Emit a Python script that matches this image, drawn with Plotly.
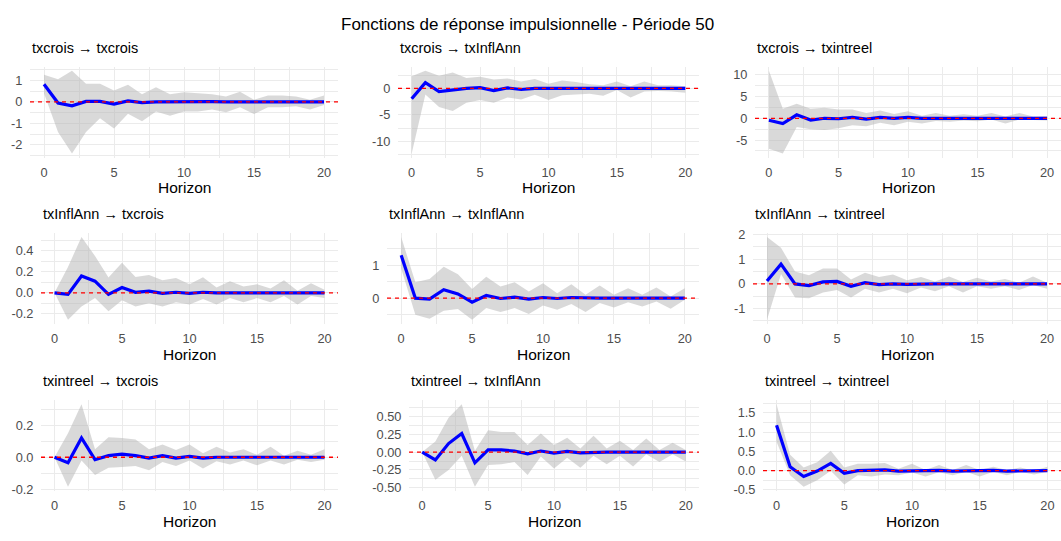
import plotly.graph_objects as go

# ---- data -----------------------------------------------------------------
horizon = list(range(21))
x_ticks = [0, 5, 10, 15, 20]

titles = [
    "txcrois → txcrois", "txcrois → txInflAnn", "txcrois → txintreel",
    "txInflAnn → txcrois", "txInflAnn → txInflAnn", "txInflAnn → txintreel",
    "txintreel → txcrois", "txintreel → txInflAnn", "txintreel → txintreel",
]

# txcrois -> txcrois
irf_1 = [0.82, -0.05, -0.18, 0.02, 0.02, -0.1, 0.05, -0.03, 0.0, 0.01, 0.0,
         0.0, 0.01, 0.0, 0.0, 0.0, 0.0, 0.0, 0.0, 0.0, 0.0]
low_1 = [0.4, -1.4, -2.4, -1.4, -0.76, -1.24, -0.55, -0.9, -0.45, -0.64, -0.45,
         -0.45, -0.35, -0.48, -0.25, -0.56, -0.25, -0.25, -0.2, -0.35, -0.15]
up_1 = [1.26, 1.05, 1.45, 0.85, 0.85, 0.53, 0.8, 0.35, 0.68, 0.35, 0.45,
        0.4, 0.35, 0.25, 0.47, 0.1, 0.3, 0.3, 0.25, 0.1, 0.3]

# txcrois -> txInflAnn
irf_2 = [-1.95, 1.1, -0.6, -0.3, 0.0, 0.15, -0.4, 0.1, -0.2, 0.0, 0.0,
         0.0, 0.0, 0.0, 0.0, 0.0, 0.0, 0.0, 0.0, 0.0, 0.0]
low_2 = [-12.3, -1.16, -3.5, -4.27, -2.7, -2.2, -2.7, -1.7, -2.1, -1.2, -2.2,
         -1.3, -1.1, -1.0, -1.4, -0.3, -1.7, -0.6, -0.5, -0.6, -0.8]
up_2 = [2.3, 3.35, 2.4, 3.0, 2.0, 2.2, 1.7, 1.9, 1.3, 1.8, 0.9,
        1.5, 1.2, 0.8, 0.6, 1.3, 0.4, 1.3, 0.6, 0.6, 0.4]

# txcrois -> txintreel
irf_3 = [-0.45, -1.2, 0.8, -0.4, 0.0, -0.1, 0.2, -0.2, 0.2, 0.0, 0.2,
         0.0, 0.0, 0.0, 0.0, 0.0, 0.0, 0.0, 0.0, 0.0, 0.0]
low_3 = [-7.0, -8.06, -2.0, -2.5, -2.7, -2.3, -1.6, -1.8, -1.0, -1.6, -0.8,
         -1.2, -0.6, -0.8, -0.5, -0.7, -0.3, -1.2, -0.3, -0.4, -0.5]
up_3 = [10.9, 2.2, 3.35, 2.2, 2.4, 2.0, 2.0, 1.2, 1.8, 1.0, 1.6,
        0.6, 1.2, 0.6, 0.9, 0.6, 1.2, 0.4, 1.2, 0.4, 0.5]

# txInflAnn -> txcrois
irf_4 = [0.0, -0.015, 0.16, 0.11, -0.015, 0.05, 0.005, 0.015, -0.005, 0.005, -0.005,
         0.005, 0.0, 0.0, 0.0, 0.0, 0.0, 0.0, 0.0, 0.0, 0.0]
low_4 = [0.0, -0.255, -0.13, -0.05, -0.175, -0.07, -0.13, -0.10, -0.13, -0.09, -0.11,
         -0.06, -0.11, -0.05, -0.09, -0.05, -0.09, -0.03, -0.11, -0.03, -0.05]
up_4 = [0.0, 0.246, 0.53, 0.35, 0.145, 0.286, 0.15, 0.17, 0.12, 0.14, 0.08,
        0.148, 0.05, 0.11, 0.06, 0.08, 0.04, 0.12, 0.02, 0.09, 0.03]

# txInflAnn -> txInflAnn
irf_5 = [1.3, 0.0, -0.03, 0.255, 0.13, -0.12, 0.08, -0.01, 0.03, -0.03, 0.02,
         -0.01, 0.02, 0.0, 0.0, 0.0, 0.0, 0.0, 0.0, 0.0, 0.0]
low_5 = [0.9, -0.5, -0.62, -0.38, -0.33, -0.65, -0.3, -0.42, -0.3, -0.48, -0.22,
         -0.35, -0.18, -0.42, -0.15, -0.28, -0.12, -0.25, -0.1, -0.32, -0.05]
up_5 = [1.85, 0.48, 0.58, 0.95, 0.72, 0.28, 0.65, 0.35, 0.48, 0.2, 0.45,
        0.15, 0.42, 0.1, 0.38, 0.1, 0.3, 0.1, 0.32, 0.05, 0.3]

# txInflAnn -> txintreel
irf_6 = [0.12, 0.8, 0.0, -0.07, 0.08, 0.1, -0.1, 0.05, -0.03, 0.0, -0.02,
         0.0, 0.0, 0.0, 0.0, 0.0, 0.0, 0.0, 0.0, 0.0, 0.0]
low_6 = [-1.45, 0.4, -0.55, -0.58, -0.35, -0.25, -0.55, -0.2, -0.35, -0.2, -0.38,
         -0.15, -0.3, -0.1, -0.35, -0.1, -0.2, -0.1, -0.25, -0.05, -0.2]
up_6 = [1.9, 1.46, 0.5, 0.35, 0.62, 0.62, 0.18, 0.45, 0.28, 0.38, 0.15,
        0.28, 0.1, 0.3, 0.08, 0.25, 0.1, 0.2, 0.05, 0.3, 0.05]

# txintreel -> txcrois
irf_7 = [0.0, -0.034, 0.12, -0.015, 0.01, 0.02, 0.01, -0.005, 0.01, -0.005, 0.005,
         -0.005, 0.0, 0.0, 0.0, -0.003, 0.0, 0.0, 0.0, 0.0, 0.0]
low_7 = [0.0, -0.184, -0.02, -0.11, -0.065, -0.06, -0.055, -0.08, -0.03, -0.055, -0.02,
         -0.07, -0.025, -0.045, -0.02, -0.05, -0.02, -0.045, -0.015, -0.03, -0.015]
up_7 = [0.0, 0.15, 0.33, 0.05, 0.124, 0.12, 0.11, 0.05, 0.08, 0.045, 0.08,
        0.025, 0.065, 0.03, 0.05, 0.015, 0.065, 0.01, 0.04, 0.015, 0.05]

# txintreel -> txInflAnn
irf_8 = [0.0, -0.11, 0.12, 0.26, -0.15, 0.03, 0.03, 0.015, -0.025, 0.015, -0.015,
         0.01, -0.01, 0.0, 0.0, 0.0, 0.0, 0.0, 0.0, 0.0, 0.0]
low_8 = [0.0, -0.386, -0.25, -0.05, -0.486, -0.18, -0.17, -0.14, -0.32, -0.06, -0.23,
         -0.08, -0.22, -0.05, -0.17, -0.05, -0.2, -0.03, -0.14, -0.03, -0.13]
up_8 = [0.0, 0.15, 0.48, 0.67, 0.02, 0.305, 0.28, 0.28, 0.1, 0.26, 0.1,
        0.2, 0.05, 0.23, 0.05, 0.16, 0.03, 0.19, 0.03, 0.13, 0.03]

# txintreel -> txintreel
irf_9 = [1.18, 0.1, -0.15, -0.01, 0.19, -0.07, 0.0, 0.0, 0.02, -0.01, 0.0,
         -0.01, 0.01, -0.01, 0.0, -0.01, 0.01, -0.01, 0.0, -0.01, 0.0]
low_9 = [0.75, -0.12, -0.42, -0.25, 0.0, -0.36, -0.12, -0.15, -0.1, -0.12, -0.05,
         -0.15, -0.04, -0.12, -0.03, -0.15, -0.03, -0.12, -0.03, -0.1, -0.03]
up_9 = [1.725, 0.41, 0.08, 0.22, 0.52, 0.08, 0.18, 0.18, 0.2, 0.05, 0.18,
        0.02, 0.15, 0.02, 0.15, 0.02, 0.1, 0.02, 0.08, 0.0, 0.1]

y_tickvals = [
    [-2, -1, 0, 1], [-10, -5, 0], [-5, 0, 5, 10],
    [-0.2, 0.0, 0.2, 0.4], [0, 1], [-1, 0, 1, 2],
    [-0.2, 0.0, 0.2], [-0.5, -0.25, 0.0, 0.25, 0.5], [-0.5, 0.0, 0.5, 1.0, 1.5],
]
y_ticktext = [
    ["-2", "-1", "0", "1"], ["-10", "-5", "0"], ["-5", "0", "5", "10"],
    ["-0.2", "0.0", "0.2", "0.4"], ["0", "1"], ["-1", "0", "1", "2"],
    ["-0.2", "0.0", "0.2"], ["-0.50", "-0.25", "0.00", "0.25", "0.50"],
    ["-0.5", "0.0", "0.5", "1.0", "1.5"],
]

irfs = [irf_1, irf_2, irf_3, irf_4, irf_5, irf_6, irf_7, irf_8, irf_9]
lows = [low_1, low_2, low_3, low_4, low_5, low_6, low_7, low_8, low_9]
ups = [up_1, up_2, up_3, up_4, up_5, up_6, up_7, up_8, up_9]

# ---- layout geometry (pixels) --------------------------------------------
W, H = 1061, 541
row_px = [(62, 155), (232, 325), (403, 496)]
col_px = [
    (30, 338), (398, 699), (755, 1061),
    (41, 338), (387, 699), (753, 1061),
    (41, 338), (409, 699), (763, 1061),
]

FONT = "Liberation Sans, Arial, sans-serif"
GRID = "#EBEBEB"

fig = go.Figure()
annotations = []
shapes = []
layout_axes = {}


def pad_range(values, frac=0.05):
    lo, hi = min(values), max(values)
    span = hi - lo
    return [lo - frac * span, hi + frac * span]


for i in range(9):
    k = i + 1
    sfx = "" if k == 1 else str(k)
    xa, ya = "x" + sfx, "y" + sfx
    row = i // 3
    x0p, x1p = col_px[i]
    top, bot = row_px[row]
    xdom = [x0p / W, x1p / W]
    ydom = [1 - bot / H, 1 - top / H]

    irf, lo, up = irfs[i], lows[i], ups[i]

    # confidence band
    fig.add_trace(go.Scatter(
        x=horizon + horizon[::-1], y=up + lo[::-1],
        fill="toself", fillcolor="rgba(179,179,179,0.5)",
        line=dict(width=0), mode="lines", hoverinfo="skip",
        showlegend=False, xaxis=xa, yaxis=ya,
    ))
    # impulse response
    fig.add_trace(go.Scatter(
        x=horizon, y=irf, mode="lines",
        line=dict(color="blue", width=3.2),
        showlegend=False, xaxis=xa, yaxis=ya,
    ))

    yr = pad_range(irf + lo + up + [0])
    ystep = y_tickvals[i][1] - y_tickvals[i][0]

    layout_axes["xaxis" + sfx] = dict(
        domain=xdom, anchor=ya, range=[-1, 21],
        tickmode="array", tickvals=x_ticks, ticktext=[str(v) for v in x_ticks],
        showgrid=True, gridcolor=GRID, gridwidth=1.2,
        minor=dict(tick0=0, dtick=2.5, showgrid=True, gridcolor=GRID, gridwidth=0.6),
        zeroline=False, showline=False,
        ticks="outside", ticklen=3, tickcolor="rgba(0,0,0,0)",
        tickfont=dict(family=FONT, size=12.8, color="#4D4D4D"),
    )
    layout_axes["yaxis" + sfx] = dict(
        domain=ydom, anchor=xa, range=yr,
        tickmode="array", tickvals=y_tickvals[i], ticktext=y_ticktext[i],
        showgrid=True, gridcolor=GRID, gridwidth=1.2,
        minor=dict(tick0=0, dtick=ystep / 2, showgrid=True, gridcolor=GRID, gridwidth=0.6),
        zeroline=False, showline=False,
        ticks="outside", ticklen=4, tickcolor="rgba(0,0,0,0)",
        tickfont=dict(family=FONT, size=12.8, color="#4D4D4D"),
    )

    # reference line at zero, across the full panel
    shapes.append(dict(
        type="line", xref=xa + " domain", yref=ya,
        x0=0, x1=1, y0=0, y1=0, layer="above",
        line=dict(color="red", width=1.3, dash="4px,4px"),
    ))

    # panel title
    annotations.append(dict(
        text=titles[i], x=xdom[0], y=1 - (top - 19.5) / H,
        xref="paper", yref="paper", xanchor="left", yanchor="middle",
        showarrow=False, font=dict(family=FONT, size=14.5, color="black"),
    ))
    # x-axis title
    annotations.append(dict(
        text="Horizon", x=(xdom[0] + xdom[1]) / 2, y=1 - (bot + 31) / H,
        xref="paper", yref="paper", xanchor="center", yanchor="middle",
        showarrow=False, font=dict(family=FONT, size=15.5, color="black"),
    ))

annotations.append(dict(
    text="Fonctions de réponse impulsionnelle - Période 50",
    x=0.497, y=1 - 19 / H, xref="paper", yref="paper",
    xanchor="center", yanchor="middle", showarrow=False,
    font=dict(family=FONT, size=17, color="black"),
))

fig.update_layout(
    width=W, height=H,
    margin=dict(l=0, r=0, t=0, b=0),
    paper_bgcolor="white", plot_bgcolor="white",
    annotations=annotations, shapes=shapes,
    showlegend=False,
    **layout_axes,
)

fig.write_html("out.html")
